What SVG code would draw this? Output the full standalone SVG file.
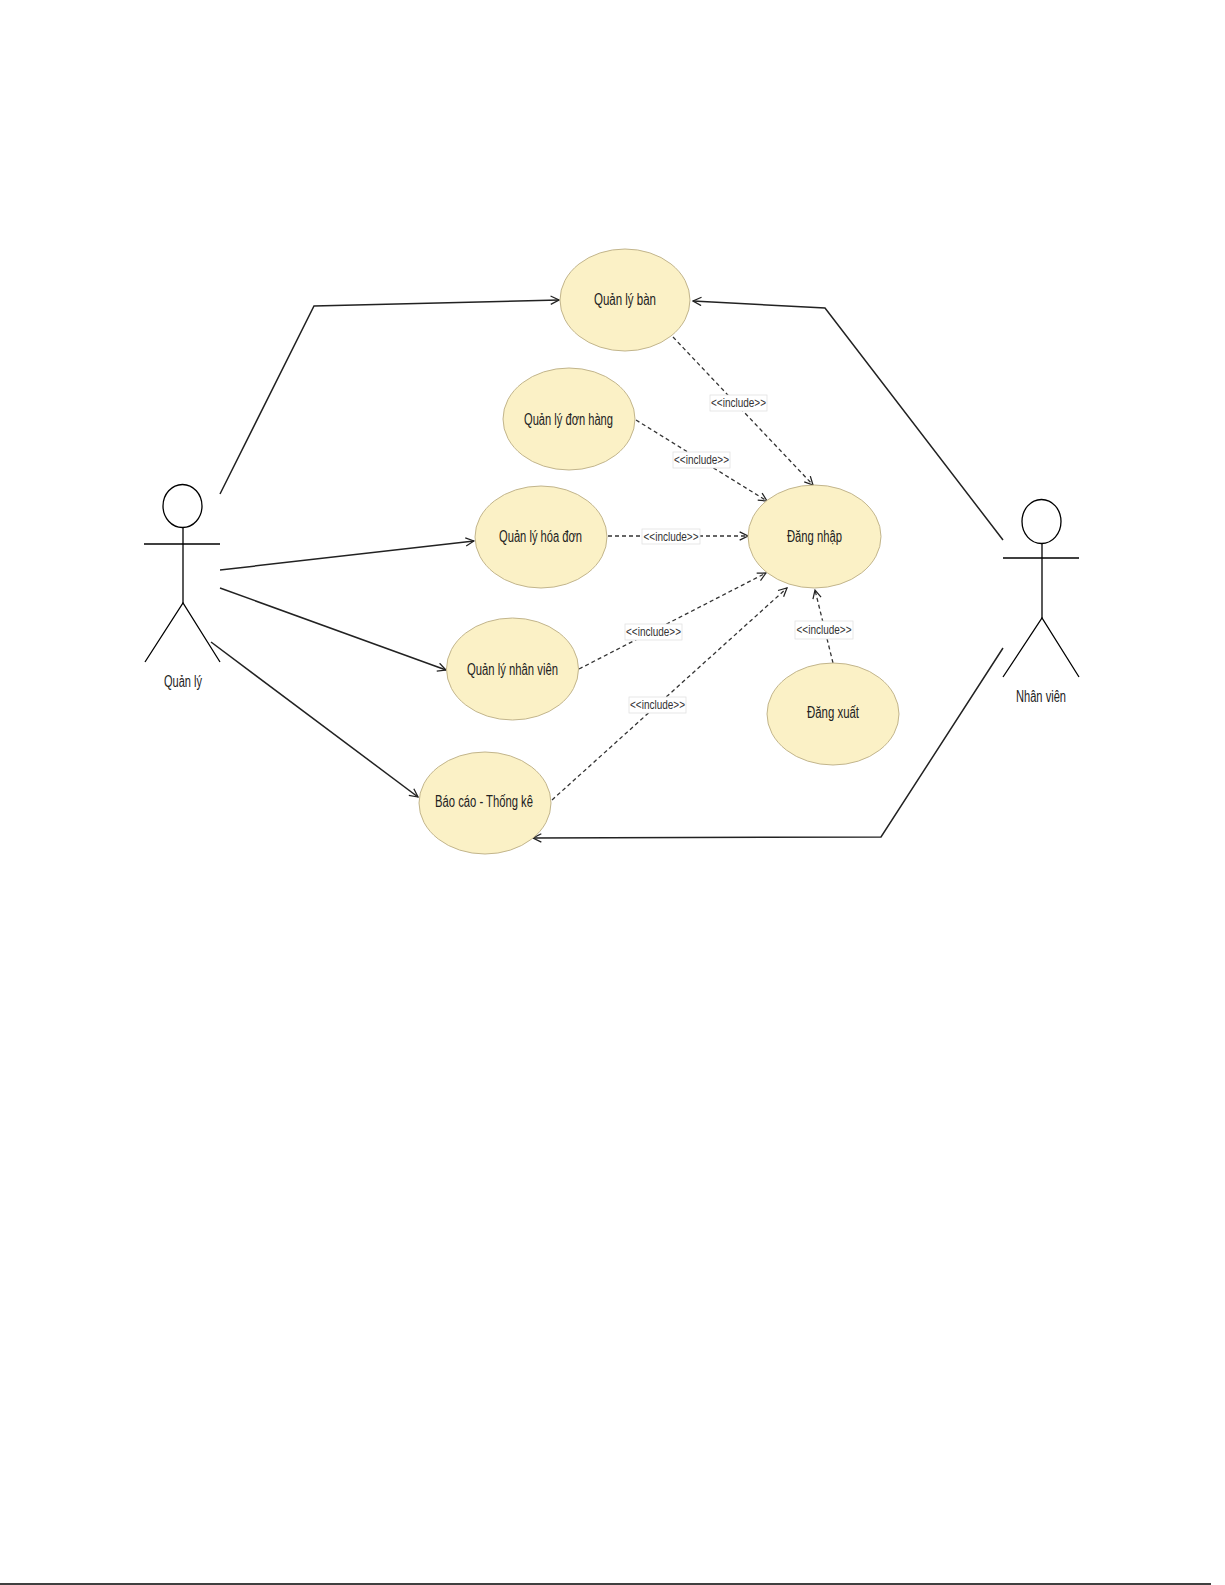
<svg xmlns="http://www.w3.org/2000/svg" width="1225" height="1585" viewBox="0 0 1225 1585">
<defs>
<style>
.uc{fill:#FBF1C6;stroke:#C2B58C;stroke-width:1}
.t{font-family:"Liberation Sans",Arial,sans-serif;font-size:16px;fill:#222;text-anchor:middle}
.lbl{font-family:"Liberation Sans",Arial,sans-serif;font-size:12.5px;fill:#333;text-anchor:middle}
.lb{fill:#fff;stroke:#e2e2e2;stroke-width:0.8}
.act{fill:none;stroke:#000;stroke-width:1.3}
.assoc{fill:none;stroke:#222;stroke-width:1.5;marker-end:url(#open)}
.inc{fill:none;stroke:#333;stroke-width:1.3;stroke-dasharray:4 3;marker-end:url(#open)}
</style>
<marker id="open" viewBox="0 0 12 12" refX="11" refY="6" markerWidth="10" markerHeight="10" markerUnits="userSpaceOnUse" orient="auto">
<path d="M1,1 L11,6 L1,11" fill="none" stroke="#222" stroke-width="1.5"/>
</marker>
</defs>
<rect width="1225" height="1585" fill="#fff"/>

<g id="connectors">
<polyline class="assoc" points="220,494 314,306 559,300"/>
<polyline class="assoc" points="1003,540 825,308 693,301"/>
<line class="assoc" x1="220" y1="570" x2="474" y2="541"/>
<line class="assoc" x1="220" y1="588" x2="446" y2="670"/>
<line class="assoc" x1="211" y1="642" x2="418" y2="797"/>
<polyline class="assoc" points="1003,648 881,837 533,838"/>

<line class="inc" x1="673" y1="337" x2="813" y2="485"/>
<line class="inc" x1="636" y1="420" x2="767" y2="501"/>
<line class="inc" x1="608" y1="536" x2="748" y2="536"/>
<line class="inc" x1="579" y1="669" x2="766" y2="573"/>
<line class="inc" x1="552" y1="800" x2="787" y2="588"/>
<line class="inc" x1="833" y1="663" x2="815" y2="590"/>

<rect class="lb" x="710" y="395" width="57" height="16"/>
<text class="lbl" x="738.5" y="407" textLength="55" lengthAdjust="spacingAndGlyphs">&lt;&lt;include&gt;&gt;</text>
<rect class="lb" x="673" y="452" width="57" height="16"/>
<text class="lbl" x="701.5" y="464" textLength="55" lengthAdjust="spacingAndGlyphs">&lt;&lt;include&gt;&gt;</text>
<rect class="lb" x="642" y="529" width="58" height="15"/>
<text class="lbl" x="671" y="541" textLength="55" lengthAdjust="spacingAndGlyphs">&lt;&lt;include&gt;&gt;</text>
<rect class="lb" x="625" y="624" width="57" height="16"/>
<text class="lbl" x="653.5" y="636" textLength="55" lengthAdjust="spacingAndGlyphs">&lt;&lt;include&gt;&gt;</text>
<rect class="lb" x="629" y="697" width="57" height="16"/>
<text class="lbl" x="657.5" y="709" textLength="55" lengthAdjust="spacingAndGlyphs">&lt;&lt;include&gt;&gt;</text>
<rect class="lb" x="795" y="621" width="58" height="18"/>
<text class="lbl" x="824" y="634" textLength="55" lengthAdjust="spacingAndGlyphs">&lt;&lt;include&gt;&gt;</text>
</g>

<g id="uc-quanlyban">
<ellipse class="uc" cx="625" cy="300" rx="65" ry="51"/>
<text class="t" x="625" y="305" textLength="62" lengthAdjust="spacingAndGlyphs">Quản lý bàn</text>
</g>
<g id="uc-quanlydonhang">
<ellipse class="uc" cx="569" cy="419" rx="66" ry="51"/>
<text class="t" x="568.5" y="425" textLength="89" lengthAdjust="spacingAndGlyphs">Quản lý đơn hàng</text>
</g>
<g id="uc-quanlyhoadon">
<ellipse class="uc" cx="541" cy="537" rx="66" ry="51"/>
<text class="t" x="540.5" y="542" textLength="83" lengthAdjust="spacingAndGlyphs">Quản lý hóa đơn</text>
</g>
<g id="uc-quanlynhanvien">
<ellipse class="uc" cx="512.5" cy="669" rx="66" ry="51"/>
<text class="t" x="512.5" y="675" textLength="91" lengthAdjust="spacingAndGlyphs">Quản lý nhân viên</text>
</g>
<g id="uc-baocao">
<ellipse class="uc" cx="485" cy="803" rx="66" ry="51"/>
<text class="t" x="484" y="807" textLength="98" lengthAdjust="spacingAndGlyphs">Báo cáo - Thống kê</text>
</g>
<g id="uc-dangnhap">
<ellipse class="uc" cx="814.5" cy="536.5" rx="66.5" ry="51.5"/>
<text class="t" x="814.5" y="542" textLength="55" lengthAdjust="spacingAndGlyphs">Đăng nhập</text>
</g>
<g id="uc-dangxuat">
<ellipse class="uc" cx="833" cy="714" rx="66" ry="51"/>
<text class="t" x="833" y="718" textLength="52" lengthAdjust="spacingAndGlyphs">Đăng xuất</text>
</g>

<g id="actor-quanly">
<ellipse class="act" cx="182.5" cy="506" rx="19.5" ry="21.5" fill="#fff"/>
<line class="act" x1="183" y1="528" x2="183" y2="603"/>
<line class="act" x1="144" y1="544" x2="220" y2="544"/>
<polyline class="act" points="145,662 183,603 220,662"/>
<text class="t" x="183" y="687" textLength="38" lengthAdjust="spacingAndGlyphs">Quản lý</text>
</g>
<g id="actor-nhanvien">
<ellipse class="act" cx="1041.5" cy="521.5" rx="19.5" ry="22" fill="#fff"/>
<line class="act" x1="1042" y1="544" x2="1042" y2="618"/>
<line class="act" x1="1003" y1="558" x2="1079" y2="558"/>
<polyline class="act" points="1003,677 1042,618 1079,677"/>
<text class="t" x="1041" y="702" textLength="50" lengthAdjust="spacingAndGlyphs">Nhân viên</text>
</g>

<line x1="0" y1="1584" x2="1211" y2="1584" stroke="#000" stroke-width="1.5"/>
</svg>
